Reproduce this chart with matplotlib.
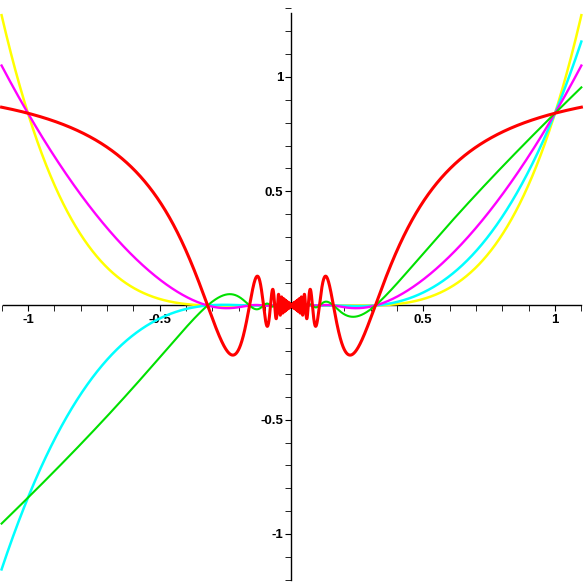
import numpy as np
import matplotlib
matplotlib.use("Agg")
import matplotlib.pyplot as plt
from matplotlib.ticker import MultipleLocator

# curves are x**n * sin(1/x), one per power
powers = [5, 4, 3, 2, 1]
colors = ["#ffff00", "#00ffff", "#ff00ff", "#00e000", "#ff0000"]
widths = [1.8, 1.8, 1.7, 1.5, 2.2]
x_range = [-1.1, 1.1]
major_ticks = [-1, -0.5, 0.5, 1]
tick_labels = ["-1", "-0.5", "0.5", "1"]

x = np.linspace(x_range[0], x_range[1], 400001)
x = x[x != 0]

fig = plt.figure(figsize=(5.84, 5.84), dpi=100)
ax = fig.add_axes([0, 0, 1, 1])

for n, c, w in zip(powers, colors, widths):
    y = x ** n * np.sin(1 / x)
    ax.plot(x, y, color=c, lw=w, solid_joinstyle="round")

ax.set_xlim(-1.106, 1.110)
ax.set_ylim(-1.219, 1.337)

for s in ["top", "right"]:
    ax.spines[s].set_visible(False)
ax.spines["left"].set_position(("data", 0))
ax.spines["bottom"].set_position(("data", 0))
ax.spines["left"].set_bounds(-1.2, 1.28)
ax.spines["bottom"].set_bounds(-1.095, 1.1)
for s in ["left", "bottom"]:
    ax.spines[s].set_linewidth(1.0)
    ax.spines[s].set_zorder(0.5)

font = dict(fontweight="bold", fontsize=9.5, family="Liberation Sans")
ax.set_xticks(major_ticks)
ax.set_xticklabels(tick_labels, **font)
ax.set_yticks(major_ticks)
ax.set_yticklabels(tick_labels, **font)
ax.xaxis.set_minor_locator(MultipleLocator(0.1))
ax.yaxis.set_minor_locator(MultipleLocator(0.1))
ax.tick_params(axis="x", which="both", direction="out", length=4, pad=2)
ax.tick_params(axis="y", which="both", direction="out", length=4, pad=2)

fig.savefig("out.png", dpi=100)
